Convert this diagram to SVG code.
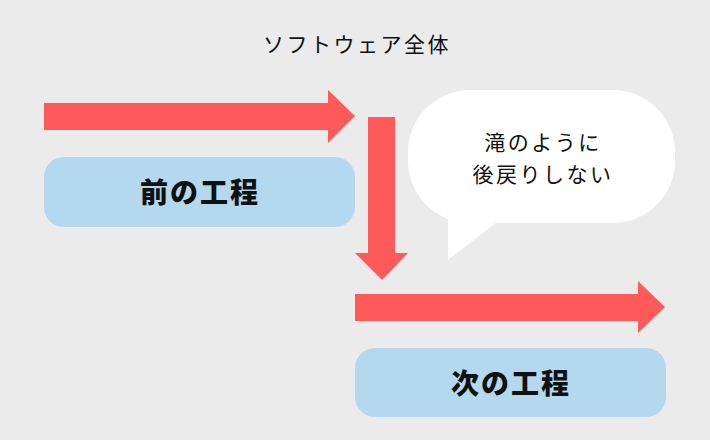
<svg xmlns="http://www.w3.org/2000/svg" width="710" height="440" viewBox="0 0 710 440">
<style>
.arrow{fill:#ff5a5a}
.box{fill:#b4d8ed}
.bt{font-family:"Noto Sans CJK JP","Noto Sans",sans-serif;font-weight:900;font-size:28px;fill:#111;text-anchor:middle;letter-spacing:2px}
.t{font-family:"Noto Sans CJK JP","Noto Sans",sans-serif;font-size:21px;fill:#111;text-anchor:middle;letter-spacing:2.5px}
</style>
<rect width="710" height="440" fill="#ebebeb"/>
<text class="t" x="357" y="52">ソフトウェア全体</text>
<g id="connectors">
<polygon class="arrow" points="44,103 328,103 328,90 355,116 328,143 328,130 44,130"/>
<polygon class="arrow" points="368,117 395,117 395,253 408,253 382,280 355,253 368,253"/>
<polygon class="arrow" points="355,294 638,294 638,281 665,307 638,333 638,321 355,321"/>
</g>
<g id="prev">
<rect class="box" x="44" y="157" width="311" height="70" rx="20"/>
<text class="bt" x="200" y="203">前の工程</text>
</g>
<g id="next">
<rect class="box" x="355" y="348" width="311" height="69" rx="20"/>
<text class="bt" x="511" y="394">次の工程</text>
</g>
<g id="bubble">
<path d="M448,214 L448,260 L497,222 Z" fill="#fff"/>
<rect x="408" y="90" width="267" height="133" rx="62" fill="#fff"/>
<text class="t" x="543" y="150">滝のように</text>
<text class="t" x="543" y="182">後戻りしない</text>
</g>
</svg>
